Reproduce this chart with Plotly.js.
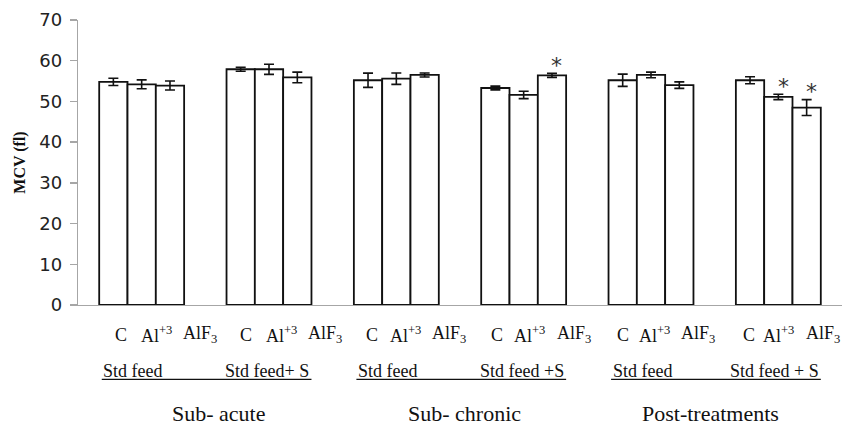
<!DOCTYPE html>
<html><head><meta charset="utf-8">
<script src="https://cdn.plot.ly/plotly-3.0.1.min.js"></script>
<style>html,body{margin:0;padding:0;background:#fff}#chart{width:851px;height:425px}</style>
</head><body><div id="chart"></div>
<script>
// ---- data ----
const categories = ['Sub-acute / Std feed', 'Sub-acute / Std feed+S', 'Sub-chronic / Std feed', 'Sub-chronic / Std feed+S', 'Post-treatment / Std feed', 'Post-treatment / Std feed+S'];
const seriesNames = ['C', 'Al<sup>+3</sup>', 'AlF<sub>3</sub>'];
const valuesC    = [54.8, 57.9, 55.2, 53.3, 55.2, 55.2];
const valuesAl   = [54.2, 57.9, 55.6, 51.6, 56.5, 51.1];
const valuesAlF3 = [53.9, 55.9, 56.5, 56.4, 54.0, 48.5];
const errC    = [0.9, 0.5, 1.75, 0.45, 1.5, 0.85];
const errAl   = [1.1, 1.25, 1.4, 0.9, 0.7, 0.65];
const errAlF3 = [1.1, 1.3, 0.5, 0.5, 0.8, 1.95];
const sigC    = [0, 0, 0, 0, 0, 0];
const sigAl   = [0, 0, 0, 0, 0, 1];
const sigAlF3 = [0, 0, 0, 1, 0, 1];
const feedLabels = ['Std feed', 'Std feed+ S', 'Std feed', 'Std feed +S', 'Std feed', 'Std feed + S'];
const periodLabels = ['Sub- acute', 'Sub- chronic', 'Post-treatments'];
const yTitle = 'MCV (fl)';
const yTicks = [0, 10, 20, 30, 40, 50, 60, 70];

// ---- build ----
const values = [valuesC, valuesAl, valuesAlF3];
const errs = [errC, errAl, errAlF3];
const sigs = [sigC, sigAl, sigAlF3];
const BARGAP = 0.333;
const barW = (1 - BARGAP) / 3;
const serif = "'Liberation Serif', 'Times New Roman', Times, serif";

const traces = values.map((v, s) => ({
  type: 'bar', x: categories, y: v, name: seriesNames[s],
  marker: {color: '#ffffff', line: {color: '#111111', width: 1.8}},
  error_y: {type: 'data', array: errs[s], visible: true, color: '#111111', thickness: 1.6, width: 5},
  hoverinfo: 'y'
}));

const annotations = [];
const shapes = [];
const labBase = [7.5, 15, 30], labSlope = [1.8, 2.9, 2.8];
categories.forEach((c, g) => {
  for (let s = 0; s < 3; s++) {
    annotations.push({xref: 'x', yref: 'paper', x: g + (s - 1) * barW, y: -0.105,
      xshift: labBase[s] - labSlope[s] * g, yanchor: 'middle', xanchor: 'center', showarrow: false,
      text: seriesNames[s], font: {family: serif, size: 18, color: '#111'}});
    if (sigs[s][g]) {
      annotations.push({xref: 'x', yref: 'y', x: g + (s - 1) * barW, y: values[s][g] + errs[s][g],
        xshift: 5, yshift: 8, yanchor: 'middle', xanchor: 'center', showarrow: false,
        text: '*', font: {family: "'DejaVu Sans', sans-serif", size: 22, color: '#333'}});
    }
  }
  const left = g % 2 === 0;
  annotations.push({xref: 'x', yref: 'paper', x: left ? g - 1.5 * barW : g + 1.5 * barW, y: -0.232,
    xshift: left ? 2 : 0, xanchor: left ? 'left' : 'right', yanchor: 'middle', showarrow: false,
    text: feedLabels[g], font: {family: serif, size: 18, color: '#111'}});
});
periodLabels.forEach((p, k) => {
  shapes.push({type: 'line', xref: 'x', yref: 'paper', x0: 2 * k - 1.5 * barW + 0.02, x1: 2 * k + 1 + 1.5 * barW,
    y0: -0.261, y1: -0.261, line: {color: '#111', width: 1.2}});
  annotations.push({xref: 'x', yref: 'paper', x: 2 * k + 0.5, y: -0.38, xshift: 13 - 8.5 * k,
    xanchor: 'center', yanchor: 'middle', showarrow: false,
    text: p, font: {family: serif, size: 22, color: '#111'}});
});
annotations.push({xref: 'paper', yref: 'paper', x: -0.077, y: 0.5, textangle: -90, showarrow: false,
  xanchor: 'center', yanchor: 'middle', text: '<b>' + yTitle + '</b>',
  font: {family: serif, size: 16, color: '#111'}});

const layout = {
  width: 851, height: 425,
  margin: {l: 78, r: 9, t: 20, b: 120},
  paper_bgcolor: '#fff', plot_bgcolor: '#fff',
  barmode: 'group', bargap: BARGAP, bargroupgap: 0,
  showlegend: false,
  xaxis: {type: 'category', range: [-0.5, 5.5], showline: true, linecolor: '#a6a6a6', linewidth: 1.3,
    ticks: '', showticklabels: false, showgrid: false, zeroline: false, fixedrange: true},
  yaxis: {range: [0, 70], tickvals: yTicks, ticks: 'outside', ticklen: 7, tickcolor: '#a6a6a6', tickwidth: 1.3,
    showline: true, linecolor: '#a6a6a6', linewidth: 1.3, showgrid: false, zeroline: false,
    ticklabelstandoff: 4, tickfont: {family: "'DejaVu Sans', sans-serif", size: 18, color: '#222'}, fixedrange: true},
  annotations: annotations, shapes: shapes
};
Plotly.newPlot('chart', traces, layout, {displayModeBar: false, staticPlot: true});
</script></body></html>
